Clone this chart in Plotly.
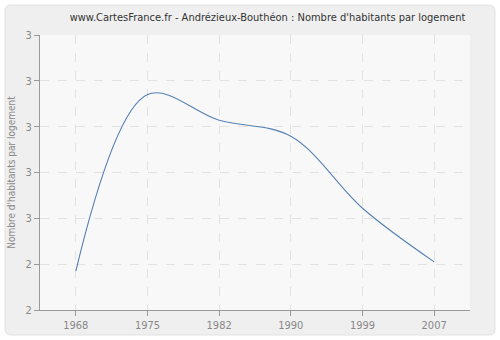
import plotly.graph_objects as go

years = ["1968", "1975", "1982", "1990", "1999", "2007"]
values = [2.435, 2.82, 2.764, 2.729, 2.572, 2.455]
ytick_vals = [2.35, 2.45, 2.55, 2.65, 2.75, 2.85, 2.95]
ytick_text = ["2", "2", "3", "3", "3", "3", "3"]

W, H = 500, 340
ml, mr, mt, mb = 40, 30, 35, 30
pw, ph = W - ml - mr, H - mt - mb


def px2paper_x(p):
    return (p - ml) / pw


def px2paper_y(p):
    return (H - mb - p) / ph


x0, x1 = px2paper_x(5), px2paper_x(495)
y0, y1 = px2paper_y(335), px2paper_y(5)
r = 6
rx, ry = r / pw, r / ph
path = (f"M {x0+rx},{y1} L {x1-rx},{y1} Q {x1},{y1} {x1},{y1-ry} "
        f"L {x1},{y0+ry} Q {x1},{y0} {x1-rx},{y0} L {x0+rx},{y0} "
        f"Q {x0},{y0} {x0},{y0+ry} L {x0},{y1-ry} Q {x0},{y1} {x0+rx},{y1} Z")

FONT = "DejaVu Sans Condensed, Liberation Sans, sans-serif"

fig = go.Figure()
fig.add_trace(go.Scatter(
    x=years, y=values, mode="lines",
    line=dict(color="#5581b4", width=1.1, shape="spline", smoothing=1.0),
    hoverinfo="x+y", showlegend=False,
))

fig.update_layout(
    width=W, height=H,
    margin=dict(l=ml, r=mr, t=mt, b=mb, autoexpand=False),
    paper_bgcolor="white",
    plot_bgcolor="rgba(0,0,0,0)",
    font=dict(family=FONT, color="#888888", size=10),
    title=dict(text="www.CartesFrance.fr - Andrézieux-Bouthéon : Nombre d'habitants par logement",
               x=(73 + 462) / 2 / W, xanchor="center", y=1 - 17 / H, yanchor="middle",
               font=dict(size=11, color="#333333", family=FONT)),
    shapes=[
        dict(type="path", xref="paper", yref="paper", path=path,
             fillcolor="#efefef", line=dict(color="#e2e2e2", width=1), layer="below"),
        dict(type="rect", xref="paper", yref="paper", x0=0, x1=1, y0=0, y1=1,
             fillcolor="#f8f8f8", line=dict(width=0), layer="below"),
    ],
    xaxis=dict(
        type="category", range=[-0.5, 5.5], automargin=False,
        showline=True, linecolor="#999999", linewidth=1,
        ticks="outside", ticklen=5, tickcolor="#999999",
        showgrid=True, gridcolor="#e2e2e2", griddash="dash", gridwidth=1,
        zeroline=False, fixedrange=True,
        tickfont=dict(size=11, color="#888888"),
    ),
    yaxis=dict(
        range=[2.35, 2.95], automargin=False,
        tickvals=ytick_vals, ticktext=ytick_text,
        showline=True, linecolor="#999999", linewidth=1,
        ticks="outside", ticklen=5, tickcolor="#999999",
        showgrid=True, gridcolor="#e2e2e2", griddash="dash", gridwidth=1,
        zeroline=False, fixedrange=True,
        tickfont=dict(size=11, color="#888888"),
        title=dict(text="Nombre d'habitants par logement", standoff=8,
                   font=dict(size=10, color="#888888")),
    ),
)

fig.write_html("out.html")
